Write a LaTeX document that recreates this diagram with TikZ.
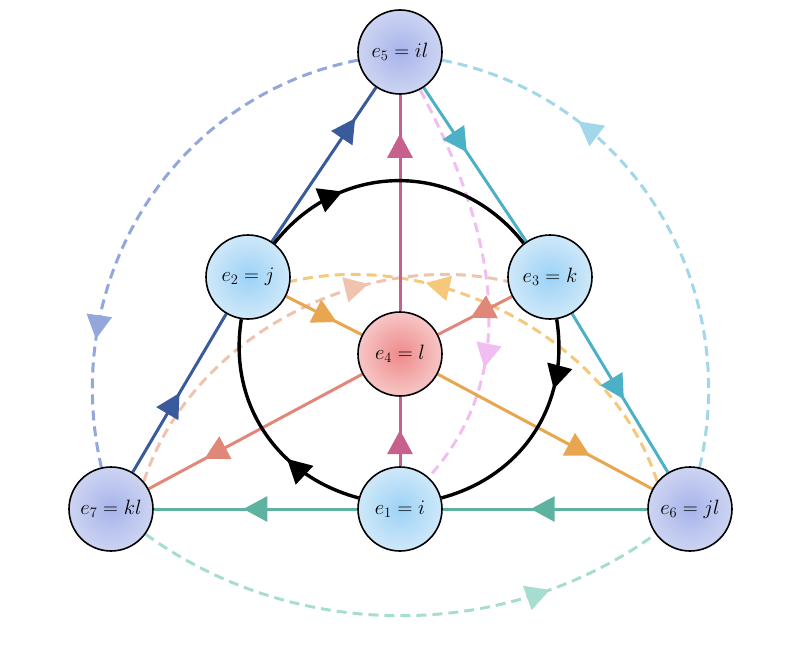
\documentclass[tikz,border=0pt]{standalone}
\usetikzlibrary{arrows.meta,decorations.markings,backgrounds}
\definecolor{bluenodein}{HTML}{9CD2F6}
\definecolor{bluenodeout}{HTML}{CFE8F9}
\definecolor{lavnodein}{HTML}{A7B4EA}
\definecolor{lavnodeout}{HTML}{CDD4F2}
\definecolor{rednodein}{HTML}{EE8A8A}
\definecolor{rednodeout}{HTML}{F7C6C6}
\definecolor{teal1}{HTML}{5EB3A0}
\definecolor{navy1}{HTML}{3A5B9B}
\definecolor{cyan1}{HTML}{4CB1C7}
\definecolor{rose1}{HTML}{C8608D}
\definecolor{orange1}{HTML}{E8A64F}
\definecolor{salmon1}{HTML}{E0877A}
\definecolor{lavdash}{HTML}{93A7DB}
\definecolor{cyandash}{HTML}{A2D7EA}
\definecolor{tealdash}{HTML}{A7DDD1}
\definecolor{pinkdash}{HTML}{F2BEF2}
\definecolor{orangedash}{HTML}{F5C87C}
\definecolor{peachdash}{HTML}{F0C3B0}
\begin{document}
\begin{tikzpicture}[
            x=1pt, y=-1pt,
            main node/.style={circle,draw,line width=1.6pt,minimum size=84pt,inner sep=0pt,font=\huge},
            i node/.style={main node,inner color=bluenodein,outer color=bluenodeout},
            l node/.style={main node,inner color=lavnodein,outer color=lavnodeout},
            c node/.style={main node,inner color=rednodein,outer color=rednodeout},
            flow/.style={line width=3pt,postaction={decorate},decoration={markings,mark=at position #1 with {\arrow{Triangle[length=24pt,width=25pt]}}}},
            back flow/.style={flow=#1,dash pattern=on 10pt off 6pt},
            ring/.style={flow=#1,line width=3.4pt}]
            \useasboundingbox (0,0) rectangle (800,650);
                    % Define vertices
            \node[i node] (e1) at (400,509) {$e_1=i$};
            \node[i node] (e2) at (248,277) {$e_2=j$};
            \node[i node] (e3) at (550,277) {$e_3=k$};
            \node[c node] (e4) at (400,354) {$e_4=l$};
            \node[l node] (e5) at (400,52) {$e_5=il$};
            \node[l node] (e6) at (690,509) {$e_6=jl$};
            \node[l node] (e7) at (111,509) {$e_7=kl$};
            \begin{scope}[on background layer]
                    % Dashed edges
            \draw[back flow=0.76,lavdash] (e5) to[out=191,in=103,distance=190pt] (e7);
            \draw[back flow=0.72,cyandash] (e6) to[out=77,in=-11,distance=190pt] (e5);
            \draw[back flow=0.78,tealdash] (e7) to[out=-36,in=-144,distance=185pt] (e6);
            \draw[back flow=0.7,pinkdash] (e5) to[out=-62,in=48,out distance=210pt,in distance=110pt] (e1);
            \draw[back flow=0.7,orangedash] (e6.140) to[out=108,in=13,distance=150pt] (e2.-6);
            \draw[back flow=0.69,peachdash] (e7.40) to[out=72,in=167,distance=150pt] (e3.186);
                    % Solid edges
            \draw[flow=0.57,teal1] (e6) -- (e1);
            \draw[flow=0.56,teal1] (e1) -- (e7);
            \draw[flow=0.5,navy1] (e7) -- (e2);
            \draw[flow=0.8,navy1] (e2) -- (e5);
            \draw[flow=0.42,cyan1] (e5) -- (e3);
            \draw[flow=0.54,cyan1] (e3) -- (e6);
            \draw[flow=0.52,rose1] (e1) -- (e4);
            \draw[flow=0.82,rose1] (e4) -- (e5);
            \draw[flow=0.67,orange1] (e2) -- (e4);
            \draw[flow=0.71,orange1] (e4) -- (e6);
            \draw[flow=0.56,salmon1] (e3) -- (e4);
            \draw[flow=0.74,salmon1] (e4) -- (e7);
                    % Circle
            \draw[ring=0.35] (e1) to[out=165,in=-99,distance=85pt] (e2);
            \draw[ring=0.3] (e2) to[out=52,in=128,distance=106pt] (e3);
            \draw[ring=0.3] (e3) to[out=-81,in=15,distance=85pt] (e1);
            \end{scope}
\end{tikzpicture}
\end{document}
